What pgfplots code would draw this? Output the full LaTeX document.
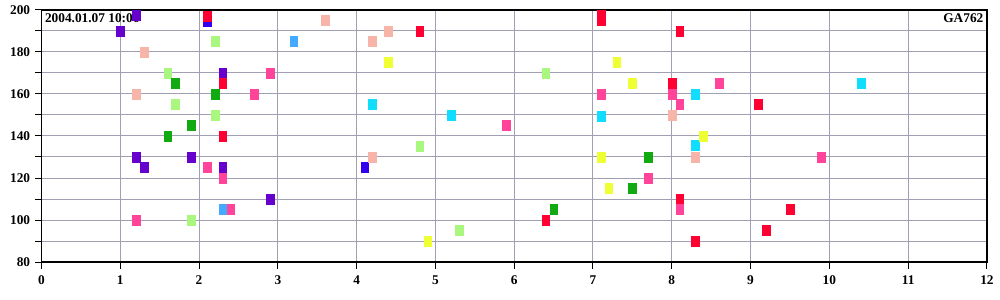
\documentclass[border=0pt]{standalone}
\usepackage{fontspec}
\setmainfont{Liberation Serif}
\usepackage{pgfplots}
\pgfplotsset{compat=1.18}
\definecolor{purp}{HTML}{6600CC}
\definecolor{redc}{HTML}{FF0033}
\definecolor{bluec}{HTML}{3300EE}
\definecolor{lblue}{HTML}{44AAFF}
\definecolor{cyanc}{HTML}{11DDFF}
\definecolor{salmon}{HTML}{F7B5AA}
\definecolor{lgreen}{HTML}{AAF77F}
\definecolor{greenc}{HTML}{11AA11}
\definecolor{hpink}{HTML}{FF4499}
\definecolor{yellowc}{HTML}{EEFF33}
\definecolor{gridc}{RGB}{160,160,178}
\pgfplotsset{
  box/.style={only marks, color=#1, mark=square*, mark size=2.9pt,
    mark options={solid, draw=#1, fill=#1, line width=0.2pt, yscale=1.27}}
}
\begin{document}
\begin{tikzpicture}
\useasboundingbox (-31.1pt,-28.5pt) rectangle (718.9pt,196.5pt);
\begin{axis}[
  at={(0,0)}, anchor=south west,
  scale only axis, width=709.1pt, height=189pt,
  xmin=0, xmax=12, ymin=80, ymax=200,
  xtick={0,1,...,12},
  ytick={80,100,...,200},
  minor ytick={90,110,...,190},
  grid=both,
  major grid style={gridc, line width=0.75pt},
  minor grid style={gridc, line width=0.75pt},
  axis line style={black, line width=1pt},
  tick align=outside,
  major tick length=5pt, minor tick length=5pt,
  tick style={black, line width=0.75pt},
  xtick pos=bottom, ytick pos=left,
  ticklabel style={font=\bfseries\fontsize{10}{12}\selectfont},
  /pgf/number format/assume math mode=true,
  xticklabel style={yshift=-2pt},
  clip=false,
]
\addplot[box=bluec] coordinates {(2.1,194.5) (4.1,125)};
\addplot[box=purp] coordinates {(1.0,190) (1.2,197.5) (1.2,130) (1.3,125) (1.9,130) (2.3,170) (2.3,125) (2.9,110)};
\addplot[box=lblue] coordinates {(3.2,185) (2.3,105)};
\addplot[box=cyanc] coordinates {(4.2,155) (5.2,150) (7.1,149.5) (8.3,160) (8.3,135.5) (10.4,165)};
\addplot[box=salmon] coordinates {(1.3,180) (1.2,160) (3.6,195) (4.2,185) (4.4,190) (4.2,130) (8.0,150) (8.3,130)};
\addplot[box=lgreen] coordinates {(1.6,170) (1.7,155) (2.2,185) (2.2,150) (1.9,100) (4.8,135) (5.3,95) (6.4,170)};
\addplot[box=greenc] coordinates {(1.7,165) (2.2,160) (1.9,145) (1.6,140) (6.5,105) (7.5,115) (7.7,130)};
\addplot[box=yellowc] coordinates {(4.4,175) (7.3,175) (7.5,165) (7.1,130) (7.2,115) (4.9,90) (8.4,140)};
\addplot[box=redc] coordinates {(2.1,197) (2.3,165) (2.3,140) (4.8,190) (6.4,100) (7.1,197.5) (7.1,195) (8.0,165) (8.1,190) (8.1,110) (8.3,90) (9.1,155) (9.2,95) (9.5,105)};
\addplot[box=hpink] coordinates {(2.9,170) (2.7,160) (2.1,125) (2.3,120) (2.4,105) (1.2,100) (5.9,145) (7.1,160) (7.7,120) (8.0,160) (8.1,155) (8.6,165) (8.1,105) (9.9,130)};
\node[anchor=north west, inner sep=2.5pt, font=\bfseries\fontsize{10}{12}\selectfont] at (rel axis cs:0,1) {2004.01.07 10:06};
\node[anchor=north east, inner sep=2.5pt, font=\bfseries\fontsize{10}{12}\selectfont] at (rel axis cs:1,1) {GA762};
\end{axis}
\end{tikzpicture}
\end{document}
